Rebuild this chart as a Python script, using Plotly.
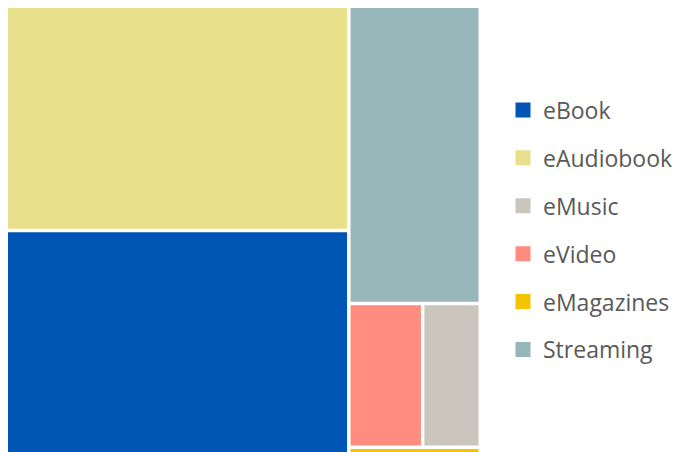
import plotly.graph_objects as go

# Data (share of circulation, %)
categories = ["eAudiobook", "eBook", "Streaming", "eVideo", "eMusic", "eMagazines"]
values = [36.2, 36.0, 18.4, 5.0, 3.9, 0.4]
colors_map = {
    "eBook": "#0055B5",
    "eAudiobook": "#E8E08A",
    "eMusic": "#CCC5BD",
    "eVideo": "#FF8C7E",
    "eMagazines": "#F2C500",
    "Streaming": "#96B6BA",
}
legend_order = ["eBook", "eAudiobook", "eMusic", "eVideo", "eMagazines", "Streaming"]

W, H = 675, 444

fig = go.Figure()
fig.add_trace(go.Treemap(
    labels=categories,
    parents=[""] * len(categories),
    values=values,
    marker=dict(colors=[colors_map[c] for c in categories], line=dict(width=0),
                pad=dict(t=0, l=0, r=0, b=0)),
    tiling=dict(packing="squarify", squarifyratio=1.618, pad=3.5),
    textinfo="none",
    sort=True,
    pathbar=dict(visible=False),
    domain=dict(x=[0, 470.5 / W], y=[0, 1]),
))

for c in legend_order:
    fig.add_trace(go.Scatter(
        x=[None], y=[None], mode="markers", name=c, legendgroup=c,
        marker=dict(symbol="square", size=15, color=colors_map[c]),
    ))

fig.update_layout(
    width=W, height=H,
    margin=dict(l=0, r=0, t=0, b=0, autoexpand=False),
    paper_bgcolor="white", plot_bgcolor="white",
    xaxis=dict(visible=False), yaxis=dict(visible=False),
    showlegend=True,
    legend=dict(
        x=495 / W, xanchor="left", y=0.5, yanchor="middle",
        font=dict(family="Open Sans", size=23, color="#595959"),
        tracegroupgap=15, traceorder="grouped",
        bgcolor="rgba(0,0,0,0)",
    ),
)

fig.write_html("out.html")
